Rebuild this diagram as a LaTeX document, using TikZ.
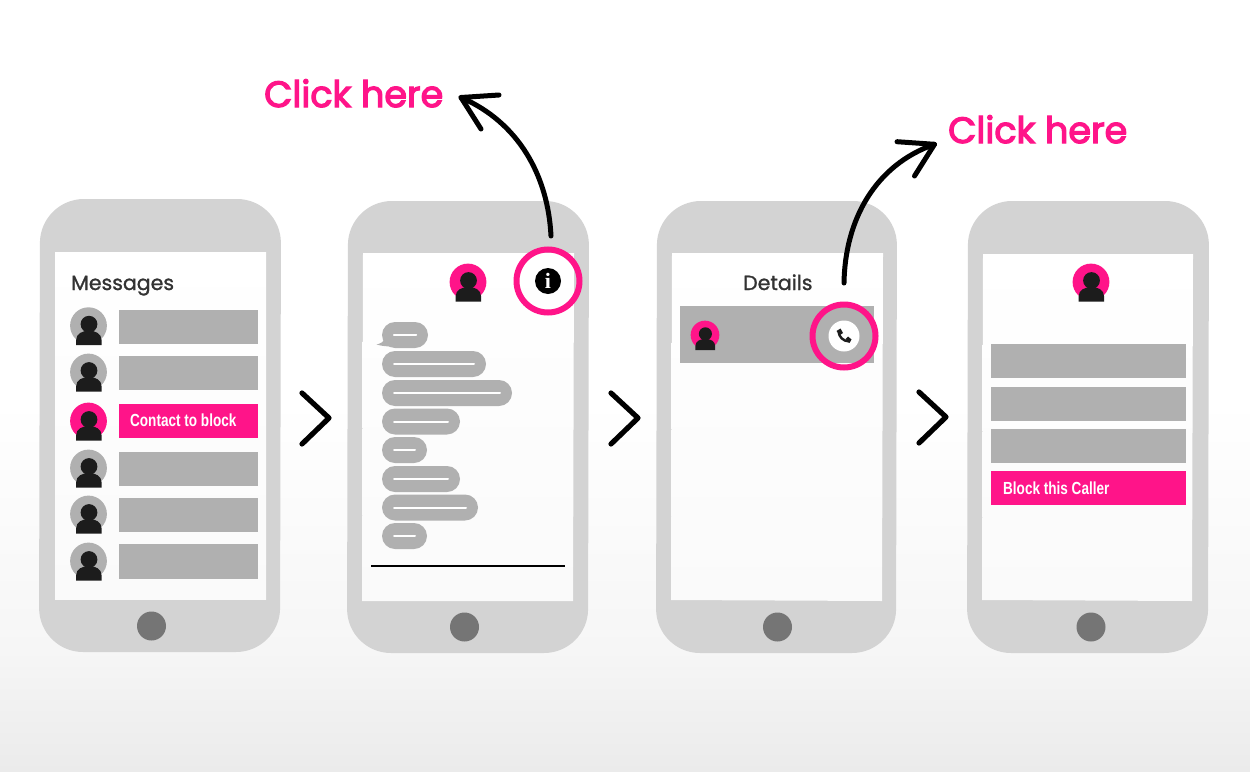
\documentclass[tikz,border=0pt]{standalone}
\usepackage{fontspec}
\setmainfont{Poppins}
\newfontfamily\btnfont{Liberation Sans}
\newfontfamily\clickfont[FakeBold=3.4]{Poppins}
\newfontfamily\headfont[FakeBold=1.2]{Poppins}
\usetikzlibrary{calc}
\definecolor{pinkc}{HTML}{FF1489}
\definecolor{bodyc}{HTML}{D3D3D3}
\definecolor{barc}{HTML}{B0B0B0}
\definecolor{darkc}{HTML}{1C1C1C}
\definecolor{homec}{HTML}{757575}
\definecolor{textc}{HTML}{333333}
\definecolor{bgmid}{HTML}{F6F6F6}
\definecolor{bgend}{HTML}{EBEBEB}
\definecolor{scrend}{HTML}{FAFAFA}
\tikzset{
  phonebody/.style={fill=bodyc,draw=none,rounded corners=44pt},
  bar/.style={fill=barc,draw=none},
  pinkbar/.style={fill=pinkc,draw=none},
  homebtn/.style={circle,fill=homec,draw=none,minimum size=29pt,inner sep=0pt},
  chev/.style={line width=5.2pt,line cap=round,line join=round,draw=black},
  ringc/.style={circle,draw=pinkc,line width=6pt,fill=none,minimum size=63pt,inner sep=0pt},
  curve/.style={line width=5pt,line cap=round,line join=round,draw=black},
  clicktext/.style={text=pinkc,font=\clickfont\fontsize{36.5}{37}\selectfont,anchor=base west,inner sep=0pt},
  headtext/.style={text=textc,font=\headfont\fontsize{20.5}{22}\selectfont,anchor=base west,inner sep=0pt},
  btntext/.style={text=white,font=\btnfont\fontsize{17.5}{17}\selectfont\bfseries,anchor=base west,inner sep=0pt,xscale=.775},
  bubble/.style={fill=barc,draw=none,rounded corners=13pt},
  bubline/.style={draw=white,line width=2pt,line cap=round},
  screenshade/.style={top color=white,bottom color=scrend,draw=none},
}
% \avatar{x}{y}{colour}{scale}
\newcommand{\avatar}[4]{%
  \begin{scope}[shift={(#1,#2)},scale=#4]
    \fill[#3] (0,0) circle (18.4);
    \fill[darkc] (0.5,-1.5) circle (8.4);
    \fill[darkc] (-12.3,19.5) -- (-12.3,14) .. controls (-12.3,8) and (-6,5) .. (0.5,5) .. controls (7,5) and (13,8) .. (13,14) -- (13,19.5) -- cycle;
  \end{scope}}
% \bub{y}{right}
\newcommand{\bub}[2]{%
  \fill[bubble] (382,#1-13) rectangle (#2,#1+13);
  \draw[bubline] (394,#1) -- (#2-12,#1);}
\begin{document}
\begin{tikzpicture}[x=1pt,y=-1pt]
\useasboundingbox (0,0) rectangle (1250,771);
\fill[white] (0,0) rectangle (1250,400);
\shade[top color=white,bottom color=bgmid,draw=none] (0,400) rectangle (1250,650.5);
\shade[top color=bgmid,bottom color=bgend,draw=none] (0,650) rectangle (1250,771);

% phones
\fill[phonebody] (40,199) -- (281,199) -- (280,652) -- (39,652) -- cycle;
\fill[phonebody] (348,201) -- (589,201) -- (588,653) -- (347,653) -- cycle;
\fill[phonebody] (657,201) -- (897,201) -- (896,653) -- (656,653) -- cycle;
\fill[phonebody] (968,201) -- (1209,201) -- (1208,653) -- (967,653) -- cycle;

% screens
\shade[screenshade] (55,252) -- (266,252) -- (266,599) -- (55,599) -- cycle;
\shade[screenshade] (363,253) -- (574,253) -- (573,601) -- (362,601) -- cycle;
\shade[screenshade] (672,253) -- (883,253) -- (882,601) -- (671,600) -- cycle;
\shade[screenshade] (983,254) -- (1193,254) -- (1192,601) -- (982,600) -- cycle;

% home buttons
\node[homebtn] (home1) at (151.5,626) {};
\node[homebtn] (home2) at (464.5,627) {};
\node[homebtn] (home3) at (777.5,627) {};
\node[homebtn] (home4) at (1091,627) {};

% phone 1
\node[headtext] (msgtitle) at (71,290) {Messages};
\fill[bar] (119,310) rectangle (258,344);
\fill[bar] (119,356) rectangle (258,390);
\fill[pinkbar] (119,404) rectangle (258,438);
\fill[bar] (119,451.5) rectangle (258,486);
\fill[bar] (119,497.5) rectangle (258,531.5);
\fill[bar] (119,544) rectangle (258,578.5);
\node[btntext] (contact) at (130,426.5) {Contact to block};
\avatar{88.5}{325.7}{barc}{1}
\avatar{88.5}{372}{barc}{1}
\avatar{88.5}{421}{pinkc}{1}
\avatar{88.5}{468}{barc}{1}
\avatar{88.5}{514}{barc}{1}
\avatar{88.5}{561}{barc}{1}

% phone 2
\avatar{468}{282}{pinkc}{1}
\bub{335}{428}
\fill[barc] (390,333) .. controls (386,338) and (384,343) .. (376.5,344.5) .. controls (382,346) and (388,347) .. (394,346) -- cycle;
\draw[bubline] (394,335) -- (416,335);
\bub{364}{486}
\bub{393}{512}
\bub{421.5}{460}
\bub{450}{427}
\bub{479}{460}
\bub{507.5}{478}
\bub{536}{427}
\draw[black,line width=2pt] (371,566) -- (565,566);
\node[circle,fill=black,minimum size=26pt,inner sep=0pt,text=white,font=\fontsize{22}{22}\selectfont\bfseries] (infoicon) at (548,281) {\fontspec{Liberation Serif}i};
\node[ringc] (ring1) at (548,281) {};

% phone 3
\node[headtext] (detailstitle) at (743,290) {Details};
\fill[bar] (680,306) rectangle (874,363);
\avatar{705}{335}{pinkc}{.78}
\node[circle,fill=white,minimum size=31pt,inner sep=0pt] (callicon) at (844,336) {};
\draw[darkc,line width=2.4pt,line cap=round] (838.5,331.5) .. controls (839,337) and (843,341) .. (849,341.5);
\fill[darkc] (836.5,331) -- (840.5,328.5) -- (843,333) -- (840,335) -- cycle;
\fill[darkc] (845.5,339) -- (848,336.5) -- (851.5,339.5) -- (849.5,343) -- cycle;
\node[ringc] (ring2) at (844,336) {};

% phone 4
\avatar{1091}{282}{pinkc}{1}
\fill[bar] (991,344) rectangle (1186,378);
\fill[bar] (991,387) rectangle (1186,421);
\fill[bar] (991,429) rectangle (1186,463);
\fill[pinkbar] (991,471) rectangle (1186,505);
\node[btntext] (blocktext) at (1003,494) {Block this Caller};

% chevrons
\draw[chev] (302,393) -- (329,418) -- (302,444);
\draw[chev] (611,393) -- (638,418) -- (611,444);
\draw[chev] (919,392) -- (946,417) -- (919,443);

% click here
\node[clicktext] (click1) at (264,107) {Click here};
\node[clicktext] (click2) at (948,143) {Click here};

% arrows
\coordinate (tip1) at (461,97.5);
\coordinate (barb1a) at (499,95);
\coordinate (barb1b) at (481,129);
\coordinate (tail1) at (551,236);
\draw[curve] (tail1) .. controls (548,175) and (518,122) .. (tip1);
\draw[curve] (barb1a) -- (tip1) -- (barb1b);
\coordinate (tip2) at (934.5,144.3);
\coordinate (barb2a) at (897,141.7);
\coordinate (barb2b) at (914.5,176);
\coordinate (tail2) at (844,283);
\draw[curve] (tail2) .. controls (845,220) and (875,165) .. (tip2);
\draw[curve] (barb2a) -- (tip2) -- (barb2b);
\end{tikzpicture}
\end{document}
